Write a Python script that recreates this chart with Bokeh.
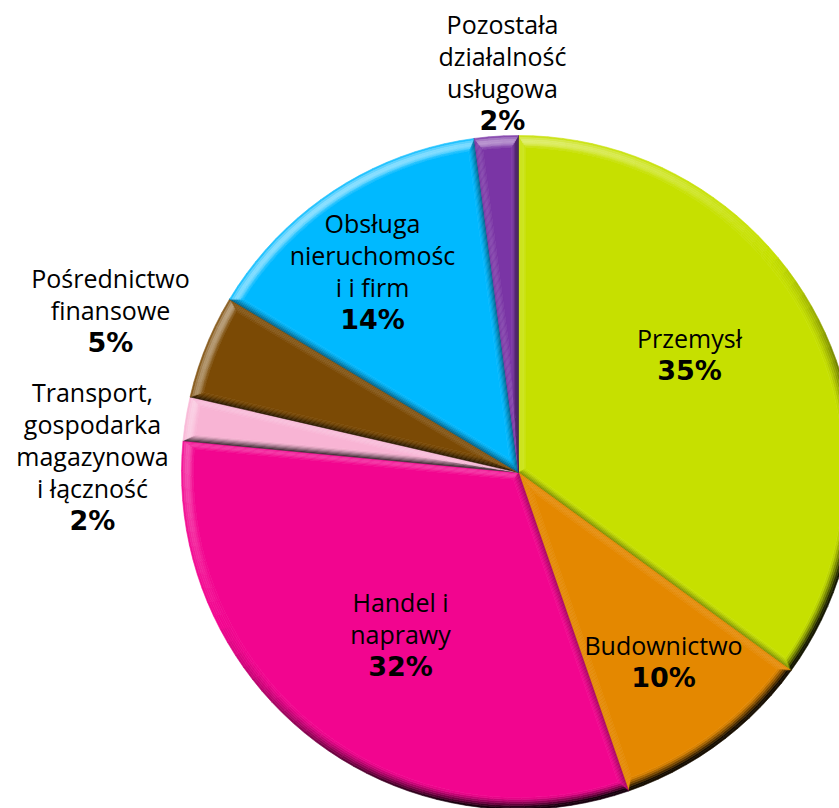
import math
from bokeh.plotting import figure
from bokeh.models import ColumnDataSource, Range1d
from bokeh.core.properties import value
from bokeh.embed import file_html
from bokeh.resources import INLINE

# --- data ---
categories = ["Przemysł", "Budownictwo", "Handel i naprawy",
              "Transport, gospodarka magazynowa i łączność",
              "Pośrednictwo finansowe", "Obsługa nieruchomości i firm",
              "Pozostała działalność usługowa"]
shares = [35.0, 9.7, 31.8, 2.1, 5.0, 14.3, 2.1]
pct_labels = ["35%", "10%", "32%", "2%", "5%", "14%", "2%"]
label_lines = [["Przemysł"], ["Budownictwo"], ["Handel i", "naprawy"],
               ["Transport,", "gospodarka", "magazynowa", "i łączność"],
               ["Pośrednictwo", "finansowe"],
               ["Obsługa", "nieruchomośc", "i i firm"],
               ["Pozostała", "działalność", "usługowa"]]
colors = ["#C6E000", "#E48800", "#F2058F", "#F8B4D4", "#7B4A05", "#00B9FF", "#7A35A5"]

# --- layout ---
W, H = 839, 808
CX, CY, R = 518.0, 472.0, 337.0
BEVEL, LAYERS = 12.0, 6
RADIAL = 0.6          # radial edges have a narrower bevel than the rim
LIGHT = (-0.55, -0.83)
label_x = [689, 663, 400, 92, 110, 372, 502]
label_top = [337, 644, 601, 391, 277, 222, 23]
LINE = 32.0
REG_FONT, REG_SIZE = "Open Sans", "25px"
BOLD_FONT, BOLD_SIZE = "DejaVu Sans", "27px"


def hex2rgb(c):
    return tuple(int(c[i:i + 2], 16) for i in (1, 3, 5))


def shade(base, s, t, lit_gain=1.0, dark_gain=1.0):
    """s: normal·light (-1..1), t: 0 at the outer rim .. 1 inner side of the bevel."""
    rgb = hex2rgb(base)
    s = s - 0.12
    if s >= 0:
        k = lit_gain * 0.62 * s * math.sin(math.pi * t)
        tgt = 255
    else:
        k = min(0.9, dark_gain * 1.2 * (-s) * (1 - t) ** 1.2)
        tgt = 0
    out = [round(v + (tgt - v) * k) for v in rgb]
    return "#%02x%02x%02x" % tuple(out)


def pt(a, r):
    return CX + r * math.sin(a), CY - r * math.cos(a)


def inset_shape(a0, a1, d):
    h = (a1 - a0) / 2
    mid = (a0 + a1) / 2
    dr = d * RADIAL
    apex = pt(mid, dr / math.sin(h))
    delta = math.asin(dr / (R - d)) if d > 0 else 0.0
    return apex, a0 + delta, a1 - delta, R - d


xs, ys, fills = [], [], []


def add(poly, col):
    xs.append([q[0] for q in poly])
    ys.append([q[1] for q in poly])
    fills.append(col)


total = sum(shares)
cum = 0.0
for share, base in zip(shares, colors):
    a0 = cum / total * 2 * math.pi
    cum += share
    a1 = cum / total * 2 * math.pi
    n = max(3, int(math.degrees(a1 - a0) / 2.5))
    n0 = (-math.cos(a0), -math.sin(a0))
    n1 = (math.cos(a1), math.sin(a1))
    for k in range(LAYERS):
        d1, d2 = BEVEL * k / LAYERS, BEVEL * (k + 1) / LAYERS
        t = (k + 0.5) / LAYERS
        ap1, s1, e1, r1 = inset_shape(a0, a1, d1)
        ap2, s2, e2, r2 = inset_shape(a0, a1, d2)
        add([ap1, pt(s1, r1), pt(s2, r2), ap2],
            shade(base, n0[0] * LIGHT[0] + n0[1] * LIGHT[1], t, 0.45, 0.75))
        add([ap1, pt(e1, r1), pt(e2, r2), ap2],
            shade(base, n1[0] * LIGHT[0] + n1[1] * LIGHT[1], t, 0.45, 0.75))
        for i in range(n):
            f0, f1 = i / n, (i + 1) / n
            b0, b1 = s1 + (e1 - s1) * f0, s1 + (e1 - s1) * f1
            c0, c1 = s2 + (e2 - s2) * f0, s2 + (e2 - s2) * f1
            m = (b0 + b1) / 2
            nn = (math.sin(m), -math.cos(m))
            add([pt(b0, r1), pt(b1, r1), pt(c1, r2), pt(c0, r2)],
                shade(base, nn[0] * LIGHT[0] + nn[1] * LIGHT[1], t))
    ap, s, e, r = inset_shape(a0, a1, BEVEL)
    add([ap] + [pt(s + (e - s) * i / n, r) for i in range(n + 1)], base)

p = figure(width=W, height=H, x_range=Range1d(0, W), y_range=Range1d(H, 0),
           output_backend="svg", toolbar_location=None, min_border=0,
           x_axis_type=None, y_axis_type=None, outline_line_color=None,
           background_fill_color="white", border_fill_color="white")
p.grid.visible = False
p.styles = {"position": "absolute", "left": "0px", "top": "0px"}

p.patches("x", "y", source=ColumnDataSource(dict(x=xs, y=ys, c=fills)),
          fill_color="c", line_color="c", line_width=0.6)

tx, ty, tt = [], [], []
bx, by, bt = [], [], []
for lines, pct, x0, y0 in zip(label_lines, pct_labels, label_x, label_top):
    for i, ln in enumerate(lines):
        tx.append(x0); ty.append(y0 + i * LINE); tt.append(ln)
    bx.append(x0); by.append(y0 + len(lines) * LINE + 1); bt.append(pct)

p.text("x", "y", text="t", source=ColumnDataSource(dict(x=tx, y=ty, t=tt)),
       text_font=value(REG_FONT), text_font_size=value(REG_SIZE), text_color="#000000",
       text_align="center", text_baseline="middle")
p.text("x", "y", text="t", source=ColumnDataSource(dict(x=bx, y=by, t=bt)),
       text_font=value(BOLD_FONT), text_font_size=value(BOLD_SIZE), text_font_style="bold",
       text_color="#000000", text_align="center", text_baseline="middle")

open("out.html", "w").write(file_html(p, INLINE))
